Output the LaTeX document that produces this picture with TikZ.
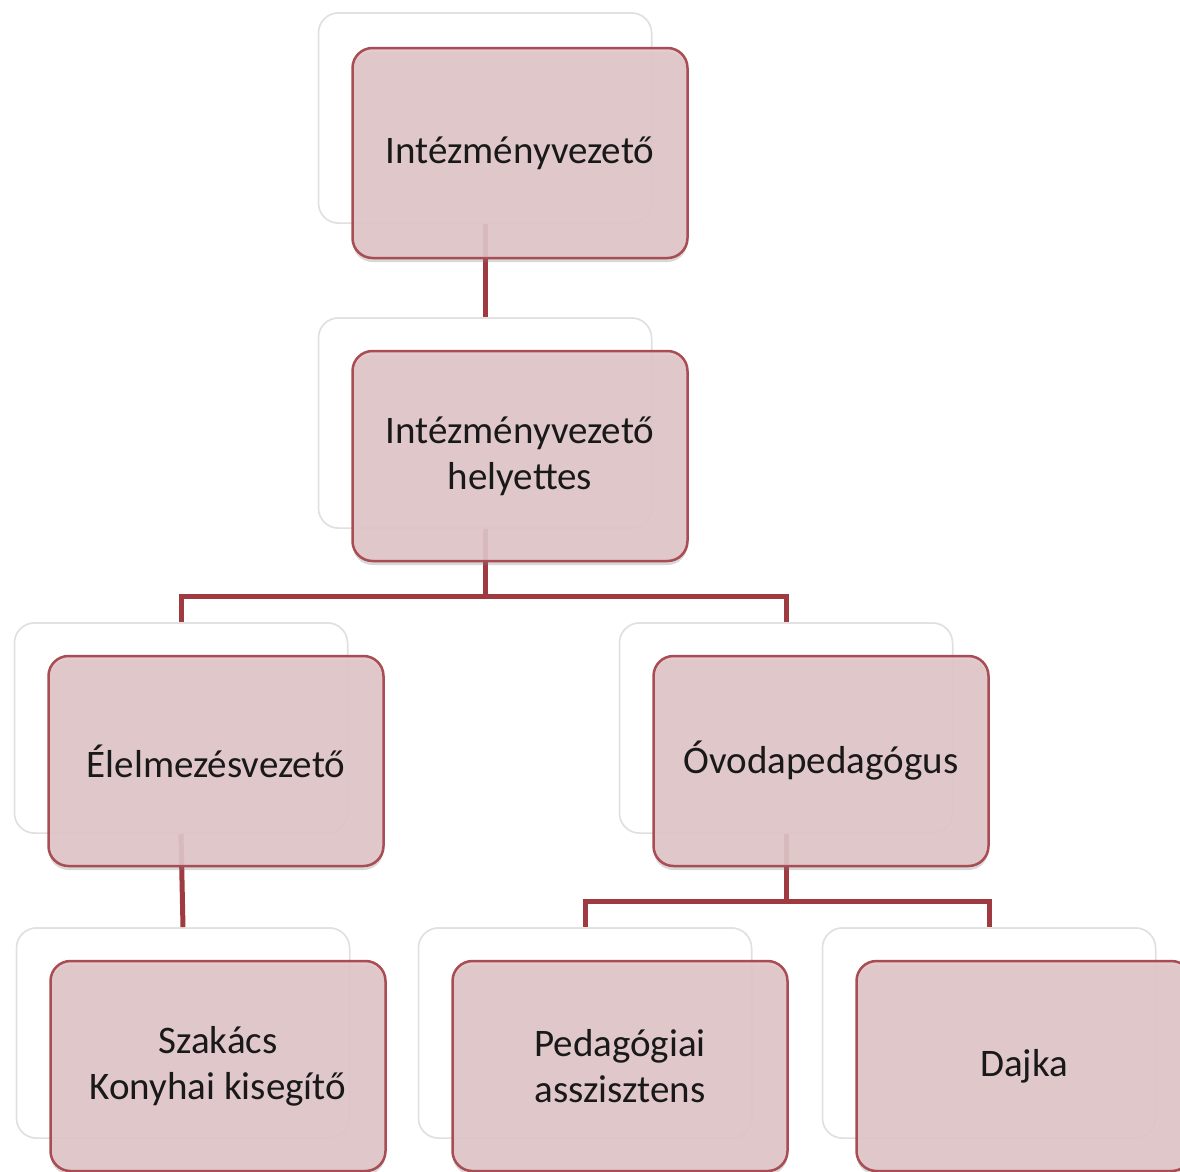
\documentclass[tikz,border=0pt]{standalone}
\usepackage{fontspec}
\setmainfont{Carlito}
\usetikzlibrary{shadows,calc}
\definecolor{boxfill}{HTML}{E0C6C9}
\definecolor{boxedge}{HTML}{A94C53}
\definecolor{linkcol}{HTML}{9E3A40}
\pgfdeclarehorizontalshading{backshade}{100bp}{color(0bp)=(black!10); color(3bp)=(black!24); color(11bp)=(white); color(100bp)=(white)}
\begin{document}
\begin{tikzpicture}[x=1pt,y=-1pt,
  frontbox/.style={draw=boxedge, line width=2.5pt, fill=boxfill, fill opacity=0.9, text opacity=1,
    rounded corners=20pt, minimum width=335pt, minimum height=210pt, align=center,
    font=\fontsize{39}{46}\selectfont, text=black!90,
    drop shadow={opacity=0.3, shadow xshift=0pt, shadow yshift=-4pt}},
  backbox/.style={draw=black!12, line width=1.5pt, fill=white,
    rounded corners=20pt, minimum width=333pt, minimum height=210pt,
    path picture={\shade[shading=backshade]
      (path picture bounding box.south west) rectangle (path picture bounding box.north east);}},
  link/.style={draw=linkcol, line width=5pt}]
\useasboundingbox (0,0) rectangle (1180,1171);
\fill[white] (0,0) rectangle (1180,1171);
% back boxes (positions)
\node[backbox] (Ab) at (485,118) {};
\node[backbox] (Bb) at (485,423) {};
\node[backbox] (Cb) at (181,728) {};
\node[backbox] (Db) at (786,728) {};
\node[backbox] (Eb) at (183,1033) {};
\node[backbox] (Fb) at (585,1033) {};
\node[backbox] (Gb) at (989,1033) {};
% connectors
\coordinate (j1) at (485,596);
\coordinate (j2) at (786,901);
\draw[link] (Ab.south) -- (Bb.north);
\draw[link] (Bb.south) -- (j1) -| (Cb.north);
\draw[link] (j1) -| (Db.north);
\draw[link] (Cb.south) -- (Eb.north);
\draw[link] (Db.south) -- (j2) -| (Fb.north);
\draw[link] (j2) -| (Gb.north);
% redraw back boxes over connector ends
\node[backbox] at (Ab) {};
\node[backbox] at (Bb) {};
\node[backbox] at (Cb) {};
\node[backbox] at (Db) {};
\node[backbox] at (Eb) {};
\node[backbox] at (Fb) {};
\node[backbox] at (Gb) {};
% front boxes
\node[frontbox] (A) at (520,153) {Intézményvezető};
\node[frontbox] (B) at (520,456) {Intézményvezető\\helyettes};
\node[frontbox] (C) at (216,761) {Élelmezésvezető};
\node[frontbox] (D) at (821,761) {Óvodapedagógus};
\node[frontbox] (E) at (218,1066) {Szakács\\Konyhai kisegítő};
\node[frontbox] (F) at (620,1066) {Pedagógiai\\asszisztens};
\node[frontbox] (G) at (1024,1066) {Dajka};
\end{tikzpicture}
\end{document}
